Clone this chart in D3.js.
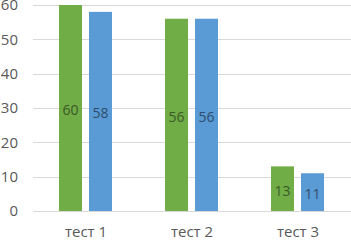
<!DOCTYPE html>
<html><head><meta charset="utf-8">
<script src="https://cdn.jsdelivr.net/npm/d3@7"></script>
<style>body{margin:0;background:#fff;}svg{display:block;font-family:"Open Sans",sans-serif;}</style>
</head><body>
<script>
const categories = ["тест 1", "тест 2", "тест 3"];
const seriesGreen = [60, 56, 13];
const seriesBlue = [58, 56, 11];
const yTicks = [0, 10, 20, 30, 40, 50, 60];

const W = 351, H = 241;
const svg = d3.select("body").append("svg").attr("width", W).attr("height", H);
const x0 = 33, x1 = 351, yTop = 5, yBot = 211;
const x = d3.scaleBand().domain(categories).range([x0, x1]);
const y = d3.scaleLinear().domain([0, 60]).range([yBot, yTop]);

svg.append("g").selectAll("line").data(yTicks).join("line")
  .attr("x1", x0).attr("x2", x1).attr("y1", d => Math.round(y(d)) + 0.5).attr("y2", d => Math.round(y(d)) + 0.5)
  .attr("stroke", "#d9d9d9").attr("stroke-width", 1);

const yAxis = d3.axisLeft(y).tickValues(yTicks).tickSize(0).tickPadding(0);
const ga = svg.append("g").attr("transform", `translate(18,0)`).call(yAxis);
ga.select(".domain").remove();
ga.selectAll("text").attr("fill", "#595959").style("font-size", "15px").style("font-family", "'Open Sans',sans-serif");

const barW = 23;
const offsets = [-27, 3];
const series = [{vals: seriesGreen, color: "#70ad47", label: "#3b5a26"}, {vals: seriesBlue, color: "#5b9bd5", label: "#2e4d6b"}];
series.forEach((s, si) => {
  const g = svg.append("g");
  g.selectAll("rect").data(s.vals).join("rect")
    .attr("x", (d, i) => x(categories[i]) + x.bandwidth() / 2 + offsets[si])
    .attr("width", barW)
    .attr("y", d => y(d)).attr("height", d => yBot - y(d))
    .attr("fill", s.color);
  g.selectAll("text").data(s.vals).join("text")
    .attr("x", (d, i) => x(categories[i]) + x.bandwidth() / 2 + offsets[si] + barW / 2)
    .attr("y", d => (y(d) + yBot) / 2 + 2)
    .attr("dy", "0.35em").attr("text-anchor", "middle")
    .attr("fill", s.label).style("font-size", "14px").style("font-family", "'Open Sans',sans-serif")
    .text(d => d);
});

const xAxis = d3.axisBottom(x).tickSize(0).tickPadding(0);
const gx = svg.append("g").attr("transform", `translate(0,226)`).call(xAxis);
gx.select(".domain").remove();
gx.selectAll("text").attr("fill", "#595959").attr("dy", "0.71em").style("font-size", "15px").style("font-family", "'Open Sans',sans-serif");
</script>
</body></html>
